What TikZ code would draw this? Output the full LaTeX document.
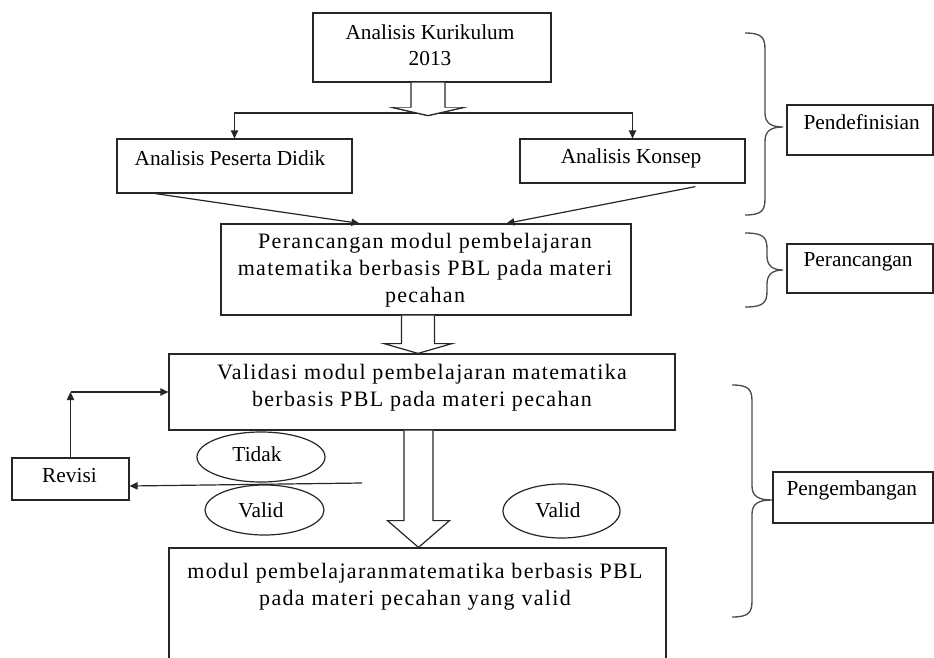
\documentclass[tikz,border=0pt]{standalone}
\usepackage{fontspec}
\setmainfont{Liberation Serif}
\usetikzlibrary{arrows.meta,calc,shapes.geometric}
\newcommand{\pxu}{0.75pt}
\newcommand{\mybrace}[6]{%
  \draw[brc] (#1,#4) .. controls (#2-4,#4) and (#2,#4+4) .. (#2,#4+16)
    -- (#2,#5-14) .. controls (#2,#5-4) and (#2+6,#5) .. (#3,#5)
    .. controls (#2+6,#5) and (#2,#5+4) .. (#2,#5+14)
    -- (#2,#6-16) .. controls (#2,#6-4) and (#2-4,#6) .. (#1,#6);}
\begin{document}
\begin{tikzpicture}[x=0.75pt,y=-0.75pt,
  line width=0.9pt, draw=black!85,
  box/.style={draw=black!85, rectangle, inner sep=0pt},
  oval/.style={draw=black!85, ellipse, inner sep=0pt},
  lbl/.style={inner sep=0pt, font=\fontsize{16}{19.5}\selectfont, align=center},
  para/.style={inner sep=0pt, align=center,
    font=\fontsize{16.5}{20.25}\selectfont\addfontfeature{LetterSpace=6}},
  arr/.style={draw=black!85, -{Triangle[length=6pt,width=5.5pt]}},
  hollow/.style={draw=black!85, fill=white, line join=miter},
  brc/.style={draw=black!70, line width=1pt}]
\useasboundingbox (0,0) rectangle (934,657);

% boxes
\node[box, minimum width=238*\pxu, minimum height=69*\pxu] (k) at (432,47.5) {};
\node[lbl] at (430,45) {Analisis Kurikulum\\2013};

\node[box, minimum width=235*\pxu, minimum height=54*\pxu] (p) at (234.5,166) {};
\node[lbl] at (230,158) {Analisis Peserta Didik};

\node[box, minimum width=225*\pxu, minimum height=44*\pxu] (ks) at (632.5,161) {};
\node[lbl] at (631,158) {Analisis Konsep};

\node[box, minimum width=410*\pxu, minimum height=91*\pxu] (r) at (426,269.5) {};
\node[para] at (425,270) {Perancangan modul pembelajaran\\matematika berbasis PBL pada materi\\pecahan};

\node[box, minimum width=506*\pxu, minimum height=76*\pxu] (v) at (422,392) {};
\node[para] at (422,388) {Validasi modul pembelajaran matematika\\berbasis PBL pada materi pecahan};

\node[box, minimum width=497*\pxu, minimum height=116*\pxu] (f) at (417.5,606) {};
\node[para] at (415,586.5) {modul pembelajaranmatematika berbasis PBL\\pada materi pecahan yang valid};

\node[box, minimum width=117*\pxu, minimum height=42*\pxu] (rev) at (70.5,479) {};
\node[lbl] at (69.5,476) {Revisi};

\node[oval, minimum width=128*\pxu, minimum height=50*\pxu] (td) at (261,457) {};
\node[lbl] at (257,454) {Tidak};
\node[oval, minimum width=119*\pxu, minimum height=50*\pxu] (v1) at (264.5,510) {};
\node[lbl] at (261,510) {Valid};
\node[oval, minimum width=117*\pxu, minimum height=54*\pxu] (v2) at (561.5,511) {};
\node[lbl] at (558,510) {Valid};

% side labels
\node[box, minimum width=146*\pxu, minimum height=50*\pxu] (s1) at (860,130) {};
\node[lbl, anchor=west] at (803,122) {Pendefinisian};
\node[box, minimum width=146*\pxu, minimum height=49*\pxu] (s2) at (860,268.5) {};
\node[lbl, anchor=west] at (803,262) {Perancangan};
\node[box, minimum width=160*\pxu, minimum height=51*\pxu] (s3) at (853,497.5) {};
\node[lbl, anchor=west] at (786,490) {Pengembangan};

% braces
\mybrace{745}{765}{783}{33}{127}{215}
\mybrace{745}{767}{783}{233}{270}{307}
\mybrace{732}{752}{772}{385}{500}{617}

% hollow arrow 1
\coordinate (a1) at ($(k.south)+(-4,0)$);
\draw[hollow] ($(a1)+(-17,0)$) -- ($(a1)+(-17,25)$) -- ($(a1)+(-35,25)$)
  -- ($(a1)+(0,33)$) -- ($(a1)+(35,25)$) -- ($(a1)+(17,25)$) -- ($(a1)+(17,0)$);
\coordinate (j) at (432,113);
\draw[arr] (j) -| (p.north);
\draw[arr] (j) -| (ks.north);
\draw[hollow] ($(a1)+(-35,25)$) -- ($(a1)+(0,33)$) -- ($(a1)+(35,25)$);

% converging arrows
\draw[arr] ($(p.south west)+(39,0)$) -- ($(r.north west)+(139,0)$);
\draw[arr] ($(ks.south west)+(176,3)$) -- ($(r.north west)+(286,0)$);

% hollow arrow 2
\coordinate (a2) at ($(r.south)+(-8,0)$);
\draw[hollow] ($(a2)+(-16.5,0)$) -- ($(a2)+(-16.5,28)$) -- ($(a2)+(-34,28)$)
  -- (a2 |- v.north) -- ($(a2)+(34,28)$) -- ($(a2)+(16.5,28)$) -- ($(a2)+(16.5,0)$);

% hollow arrow 3
\coordinate (a3) at ($(v.south)+(-3.5,0)$);
\draw[hollow] ($(a3)+(-14.5,0)$) -- ($(a3)+(-14.5,90)$) -- ($(a3)+(-31,90)$)
  -- (a3 |- f.north) -- ($(a3)+(31,90)$) -- ($(a3)+(14.5,90)$) -- ($(a3)+(14.5,0)$);

% revision loop
\coordinate (c) at (rev.north |- v.west);
\draw[arr] (rev.north) -- (c);
\draw[arr] (c) -- (v.west);
\coordinate (t) at (362,483);
\draw[arr] (t) -- ($(rev.east)+(0,7)$);
\end{tikzpicture}
\end{document}
